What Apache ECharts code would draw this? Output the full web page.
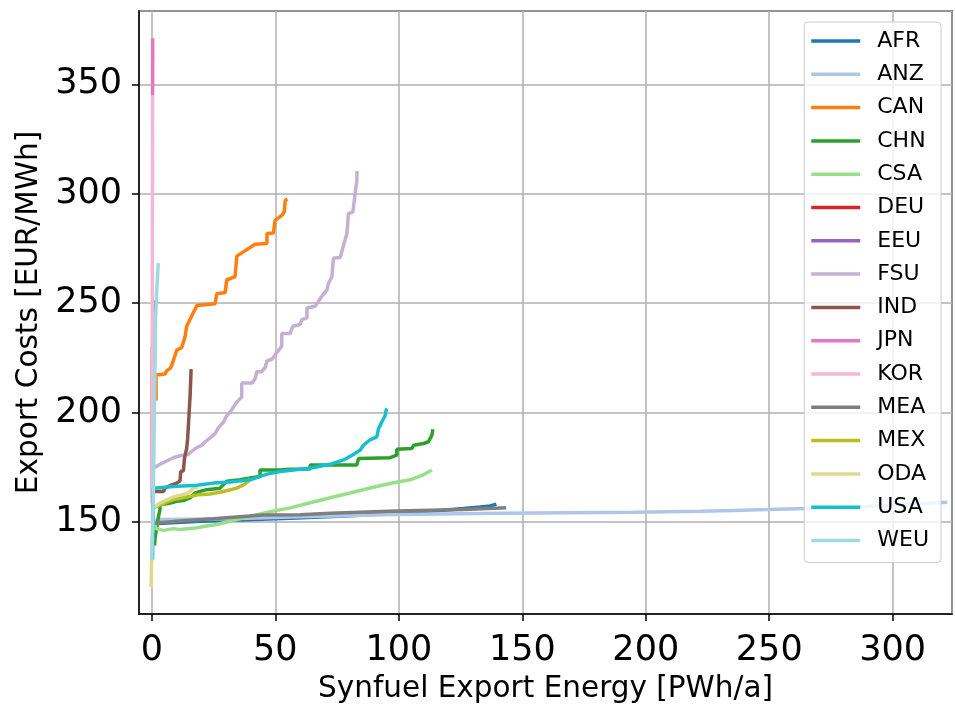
<!DOCTYPE html>
<html>
<head>
<meta charset="utf-8">
<script src="https://cdn.jsdelivr.net/npm/echarts@6.0.0/dist/echarts.min.js"></script>
<style>
  html, body { margin: 0; padding: 0; background: #fff; }
  #main { width: 955px; height: 709px; }
</style>
</head>
<body>
<div id="main"></div>
<script>
// regions and tab20 colours
const regions = ['AFR', 'ANZ', 'CAN', 'CHN', 'CSA', 'DEU', 'EEU', 'FSU', 'IND', 'JPN', 'KOR', 'MEA', 'MEX', 'ODA', 'USA', 'WEU'];
const colors = ['#1f77b4', '#aec7e8', '#ff7f0e', '#2ca02c', '#98df8a', '#d62728', '#9467bd', '#c5b0d5',
  '#8c564b', '#e377c2', '#f7b6d2', '#7f7f7f', '#bcbd22', '#dbdb8d', '#17becf', '#9edae5'];

// cost curves: [export energy PWh/a, export cost EUR/MWh]
const AFR = [[0.5, 149.2], [19.6, 150.4], [35.7, 151.0], [58.7, 151.9], [80.3, 152.9], [99.2, 154.2],
  [116.8, 155.3], [126.2, 156.2], [133.0, 156.9], [137.0, 157.4], [139.5, 158.2]];
const ANZ = [[0.5, 150.6], [3.3, 151.2], [31.7, 151.5], [60.0, 152.4], [99.2, 153.5], [141.1, 154.0],
  [195.0, 154.5], [222.1, 154.9], [235.5, 155.3], [249.2, 155.7], [282.8, 156.7], [322.1, 159.1]];
const CAN = [[1.7, 205.5], [1.7, 217.2], [5.3, 217.6], [6.0, 219.1], [7.4, 220.2], [8.1, 221.7], [10.1, 228.6],
  [12.1, 229.7], [13.5, 235.0], [14.1, 239.5], [18.2, 248.9], [25.6, 249.8], [26.3, 254.3], [29.7, 254.9],
  [30.3, 260.6], [33.7, 262.1], [34.4, 271.5], [41.8, 276.9], [46.6, 277.3], [46.6, 281.8], [49.2, 282.1],
  [49.9, 287.8], [52.6, 290.1], [53.6, 291.6], [54.0, 296.9], [54.9, 297.6]];
const CHN = [[1.1, 139.3], [1.3, 142.9], [2.0, 147.4], [2.6, 152.0], [3.3, 155.7], [3.3, 158.0], [5.3, 158.3],
  [7.4, 158.7], [10.1, 159.5], [12.8, 159.8], [15.5, 161.0], [17.5, 163.3], [19.5, 164.0], [22.2, 164.8],
  [27.6, 165.5], [30.3, 168.6], [35.7, 169.3], [39.8, 170.1], [43.8, 170.8], [43.8, 173.8], [51.9, 173.8],
  [56.0, 174.1], [64.1, 174.3], [64.1, 176.1], [83.0, 176.1], [83.7, 179.1], [96.5, 179.4], [99.2, 180.6],
  [99.2, 183.3], [105.3, 183.6], [106.0, 185.1], [110.0, 185.9], [112.0, 186.7], [113.4, 189.7], [113.8, 192.4]];
const CSA = [[0.9, 150.1], [1.7, 147.0], [4.7, 146.2], [8.7, 147.0], [11.4, 146.6], [18.2, 147.4], [22.2, 148.2],
  [26.3, 148.9], [34.4, 151.2], [42.5, 153.4], [47.9, 154.7], [56.0, 156.5], [64.1, 158.8], [72.2, 161.1],
  [80.3, 163.3], [88.4, 165.6], [97.8, 168.0], [104.6, 169.3], [110.0, 171.6], [113.4, 173.8]];
const DEU = [[0.1, 165.0], [0.15, 200.0], [0.2, 230.0]];
const EEU = [[0.3, 170.1], [0.7, 197.3], [1.1, 229.0], [1.3, 251.2]];
const FSU = [[0.6, 174.6], [3.3, 176.4], [6.0, 177.9], [8.7, 179.4], [11.4, 180.3], [14.8, 180.9], [16.2, 182.4],
  [18.2, 184.0], [20.2, 185.1], [21.6, 186.7], [23.6, 188.5], [25.6, 190.4], [26.9, 193.0], [29.0, 195.7],
  [30.3, 198.5], [31.7, 200.3], [33.0, 202.5], [34.4, 204.8], [36.4, 207.1], [36.4, 213.5], [40.5, 213.5],
  [41.8, 215.4], [42.5, 218.7], [44.5, 218.7], [45.9, 220.7], [46.6, 223.6], [48.6, 224.4], [50.6, 227.4],
  [52.6, 230.4], [52.6, 236.2], [56.0, 236.2], [57.1, 239.5], [60.0, 240.3], [60.7, 242.5], [62.8, 243.3],
  [62.8, 247.8], [66.1, 248.6], [68.8, 253.1], [70.9, 256.1], [71.5, 259.1], [72.9, 262.1], [73.5, 270.5],
  [76.3, 270.9], [77.6, 276.5], [79.0, 281.8], [79.6, 290.9], [81.4, 291.6], [82.3, 299.9], [83.0, 305.9],
  [83.1, 310.4]];
const IND = [[0.6, 164.0], [4.7, 164.0], [5.3, 165.5], [8.1, 167.0], [10.1, 167.8], [11.4, 168.8], [11.7, 173.1],
  [12.8, 173.4], [13.2, 179.1], [14.1, 183.7], [14.5, 188.2], [14.8, 194.2], [15.5, 207.8], [15.9, 219.9]];
const JPN = [[0.3, 344.9], [0.35, 371.1]];
const KOR = [[0.0, 158.5], [0.2, 251.5], [0.3, 344.9]];
const MEA = [[0.6, 149.5], [11.4, 150.5], [24.8, 151.5], [25.2, 152.4], [45.1, 153.2], [60.0, 153.3],
  [72.2, 154.0], [99.2, 155.1], [126.2, 155.7], [143.5, 156.5]];
const MEX = [[0.5, 156.5], [1.3, 157.2], [8.7, 160.2], [15.5, 161.8], [18.8, 162.5], [23.6, 162.8], [29.0, 164.0],
  [34.4, 165.5], [37.1, 167.0], [39.1, 168.6], [39.8, 170.1]];
const ODA = [[-0.3, 120.2], [-0.1, 132.9], [0.5, 156.5], [3.3, 158.7], [8.7, 161.5], [14.1, 163.0],
  [15.5, 164.0], [16.8, 165.5], [18.8, 166.0]];
const USA = [[0.3, 132.9], [0.6, 165.5], [8.7, 166.3], [18.2, 166.8], [24.9, 167.8], [31.7, 168.3], [39.8, 169.3],
  [46.6, 171.9], [51.9, 173.1], [60.0, 174.1], [64.0, 174.6], [72.2, 176.4], [77.6, 178.4], [81.6, 180.9],
  [84.4, 182.9], [85.7, 185.1], [88.1, 187.4], [91.1, 188.9], [91.8, 192.7], [93.1, 195.7], [94.5, 198.7],
  [94.9, 201.3], [95.3, 201.8]];
const WEU = [[0.0, 132.5], [0.6, 161.0], [1.1, 206.3], [1.5, 242.5], [2.0, 256.1], [2.6, 268.3]];

const curves = [AFR, ANZ, CAN, CHN, CSA, DEU, EEU, FSU, IND, JPN, KOR, MEA, MEX, ODA, USA, WEU];

const fontFamily = 'DejaVu Sans';

let myChart = echarts.init(document.getElementById('main'), null, {renderer: 'canvas'});
myChart.setOption({
  animation: false,
  backgroundColor: '#fff',
  // title sits above the visible area, only the descenders show
  title: {
    text: 'Synthetic Fuel Export Cost Curves for Each Country',
    left: 202,
    top: -25,
    textStyle: {fontFamily: fontFamily, fontSize: 20.5, fontWeight: 'normal', color: '#000'}
  },
  grid: {
    left: 139, right: 3, top: 11, bottom: 92,
    show: true, borderColor: '#000', borderWidth: 1.5
  },
  legend: {
    orient: 'vertical',
    right: 14,
    top: 22,
    padding: [8, 12, 11, 7],
    itemWidth: 49,
    itemHeight: 3.5,
    itemGap: 11.3,
    icon: 'rect',
    backgroundColor: 'rgba(255,255,255,0.8)',
    borderColor: '#cccccc',
    borderWidth: 1,
    borderRadius: 4,
    textStyle: {fontFamily: fontFamily, fontSize: 22, color: '#000', padding: [0, 0, 0, 12]},
    data: regions
  },
  xAxis: {
    type: 'value',
    min: -5.2,
    max: 324,
    name: 'Synfuel Export Energy [PWh/a]',
    nameLocation: 'middle',
    nameGap: 60,
    nameTextStyle: {fontFamily: fontFamily, fontSize: 29.5, color: '#000'},
    axisLine: {show: true, onZero: false, lineStyle: {color: '#000', width: 1.5}},
    axisTick: {show: true, length: 7, lineStyle: {color: '#000', width: 1.5}},
    axisLabel: {showMinLabel: false, showMaxLabel: false, margin: 19,
      fontFamily: fontFamily, fontSize: 35, color: '#000'},
    splitLine: {show: true, lineStyle: {color: '#b0b0b0', width: 1.5}}
  },
  yAxis: {
    type: 'value',
    min: 108,
    max: 383.5,
    name: 'Export Costs [EUR/MWh]',
    nameLocation: 'middle',
    nameGap: 85,
    nameTextStyle: {fontFamily: fontFamily, fontSize: 29.5, color: '#000'},
    axisLine: {show: true, onZero: false, lineStyle: {color: '#000', width: 1.5}},
    axisTick: {show: true, length: 7, lineStyle: {color: '#000', width: 1.5}},
    axisLabel: {showMinLabel: false, showMaxLabel: false, margin: 17,
      fontFamily: fontFamily, fontSize: 35, color: '#000'},
    splitLine: {show: true, lineStyle: {color: '#b0b0b0', width: 1.5}}
  },
  series: regions.map(function (name, i) {
    return {
      name: name,
      type: 'line',
      data: curves[i],
      symbol: 'none',
      lineStyle: {color: colors[i], width: 3.5},
      itemStyle: {color: colors[i]}
    };
  })
});
</script>
</body>
</html>
